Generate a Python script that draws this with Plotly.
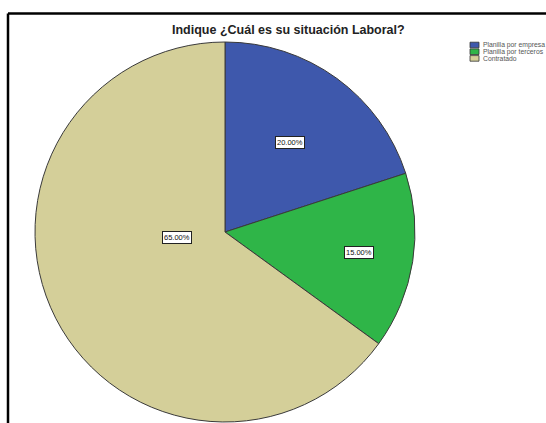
import plotly.graph_objects as go

# Survey answers: employment situation
categories = ["Planilla por empresa", "Planilla por terceros", "Contratado"]
percentages = [20.00, 15.00, 65.00]
slice_colors = ["#3e58ac", "#2fb548", "#d4cf99"]

# Where the boxed percentage labels sit (pixels from top-left of the page)
label_px = [(290, 142), (374, 252), (162, 237)]

W, H = 546, 423


def px_x(x):
    return x / W


def px_y(y):
    return 1 - y / H


fig = go.Figure(
    go.Pie(
        labels=categories,
        values=percentages,
        sort=False,
        direction="clockwise",
        rotation=0,
        marker=dict(colors=slice_colors, line=dict(color="#3a3a3a", width=1)),
        textinfo="none",
        hoverinfo="label+percent",
        showlegend=False,
        domain=dict(x=[px_x(35), px_x(415)], y=[px_y(422), px_y(42)]),
    )
)

# Boxed value labels
for val, (px, py) in zip(percentages, label_px):
    fig.add_annotation(
        x=px_x(px), y=px_y(py), xref="paper", yref="paper",
        text=f"{val:.2f}%", showarrow=False,
        font=dict(family="Liberation Sans, Arial", size=7.5, color="#111"),
        bgcolor="white", bordercolor="#222", borderwidth=1, borderpad=1,
    )

# Compact legend: swatch + category name per row
legend_x, legend_y0, legend_step = 470, 45, 6.7
for i, (name, col) in enumerate(zip(categories, slice_colors)):
    yc = legend_y0 + i * legend_step
    fig.add_shape(type="rect", xref="paper", yref="paper",
                  x0=px_x(legend_x), x1=px_x(legend_x + 9),
                  y0=px_y(yc + 2.8), y1=px_y(yc - 2.8),
                  fillcolor=col, line=dict(color="#333", width=0.8))
    fig.add_annotation(
        x=px_x(legend_x + 11), y=px_y(yc), xref="paper", yref="paper",
        text=name, showarrow=False, xanchor="left", yanchor="middle",
        font=dict(family="Liberation Sans, Arial", size=6.8, color="#555"),
    )

# Chart title
fig.add_annotation(
    x=px_x(288), y=px_y(30), xref="paper", yref="paper",
    text="<b>Indique ¿Cuál es su situación Laboral?</b>", showarrow=False,
    font=dict(family="Liberation Sans, Arial", size=12.5, color="#222"),
    xanchor="center", yanchor="middle",
)

# Frame lines along the top and left edges
fig.add_shape(type="line", xref="paper", yref="paper",
              x0=px_x(8), x1=1, y0=px_y(13.5), y1=px_y(13.5),
              line=dict(color="black", width=2.5))
fig.add_shape(type="line", xref="paper", yref="paper",
              x0=px_x(8), x1=px_x(8), y0=0, y1=px_y(13.5),
              line=dict(color="black", width=2.5))

fig.update_layout(
    width=W, height=H,
    margin=dict(l=0, r=0, t=0, b=0, autoexpand=False),
    paper_bgcolor="white", plot_bgcolor="white",
    showlegend=False,
)

fig.write_html("out.html")
